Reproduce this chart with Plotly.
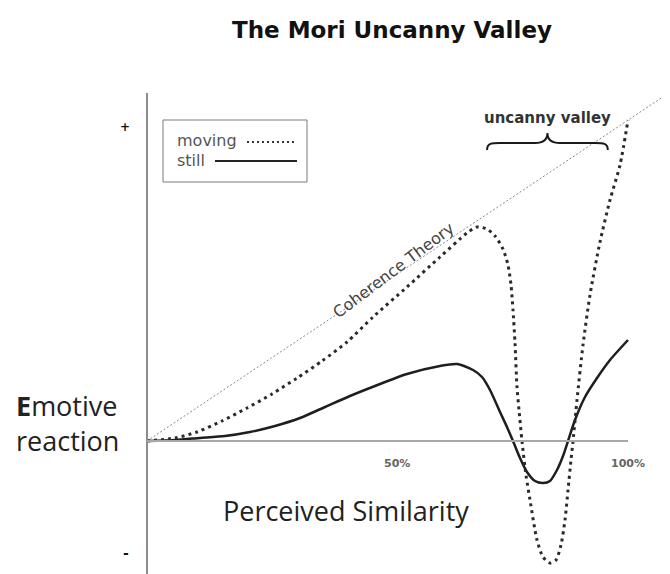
import plotly.graph_objects as go

# ---- data (perceived similarity in %, emotive reaction in arbitrary units, + = 100) ----
moving_similarity = [0, 5.82, 10.40, 15.59, 20.79, 25.99, 31.19, 36.38, 41.58, 46.99, 54.05,
                     60.91, 66.53, 68.61, 70.69, 72.35, 74.01, 75.05, 75.68, 76.09, 76.51,
                     76.92, 77.34, 77.96, 78.79, 79.63, 81.08, 82.33, 83.78, 85.03, 86.07,
                     86.90, 87.53, 88.15, 88.57, 89.40, 90.64, 92.10, 94.18, 96.26, 98.34, 100]
moving_reaction = [0, 0.96, 2.87, 6.37, 10.51, 14.97, 20.06, 25.48, 31.53, 39.49, 49.04,
                   58.60, 66.24, 68.15, 67.52, 65.29, 61.15, 56.05, 49.68, 41.72, 31.21,
                   17.20, 9.87, 0, -10.83, -18.79, -31.53, -36.94, -38.85, -37.90, -33.12,
                   -25.16, -15.61, -6.05, 0, 13.06, 30.57, 46.50, 63.38, 76.75, 87.90, 102.23]

still_similarity = [0, 5.82, 11.02, 16.22, 21.41, 26.61, 31.81, 37.01, 42.20, 47.40, 54.05,
                    60.91, 64.45, 67.78, 69.65, 71.31, 73.39, 74.84, 76.09, 77.55, 79.00,
                    80.67, 82.33, 83.78, 85.24, 86.49, 87.53, 88.98, 91.06, 93.56, 96.26,
                    100]
still_reaction = [0, 0.32, 0.96, 1.59, 2.87, 4.78, 7.32, 10.83, 14.33, 17.52, 21.34,
                  23.89, 24.52, 22.61, 20.38, 16.24, 9.24, 4.46, 0, -5.41, -9.87,
                  -12.74, -13.38, -12.74, -9.24, -4.78, 0, 6.69, 14.01, 20.06, 25.80,
                  32.17]

coherence_similarity = [0, 110]
coherence_reaction = [0, 112.4]

valley_start, valley_end = 70.7, 95.8

x_tick_positions = [52, 100]
x_tick_labels = ["50%", "100%"]

# page body has an 8px margin; the figure sits at (8, 8)
OFF = 8
W, H = 662, 566
X_RANGE = [-28.898, 108.732]
Y_RANGE = [-42.357, 137.898]


def px(x):
    return (x - OFF) / W


def py(y):
    return 1 - (y - OFF) / H


fig = go.Figure()

fig.add_trace(go.Scatter(x=coherence_similarity, y=coherence_reaction, mode="lines",
                         line=dict(color="#8a8a8a", width=1, dash="2px,2px"),
                         hoverinfo="skip", showlegend=False))
fig.add_trace(go.Scatter(x=still_similarity, y=still_reaction, mode="lines", name="still",
                         line=dict(color="#1e1e1e", width=2.5, shape="spline", smoothing=0.7),
                         showlegend=False))
fig.add_trace(go.Scatter(x=moving_similarity, y=moving_reaction, mode="lines", name="moving",
                         line=dict(color="#2a2a2a", width=3, dash="3px,4px", shape="spline",
                                   smoothing=0.7),
                         showlegend=False))

shapes = [
    # vertical axis
    dict(type="line", xref="x", yref="paper", x0=0, x1=0, y0=py(93), y1=0,
         line=dict(color="#8c8c8c", width=2)),
    # horizontal axis
    dict(type="line", xref="x", yref="y", x0=0, x1=100, y0=0, y1=0,
         line=dict(color="#a8a8a8", width=2)),
    # legend box
    dict(type="rect", xref="paper", yref="paper", x0=px(163), x1=px(307), y0=py(120), y1=py(182),
         line=dict(color="#7a7a7a", width=1)),
    dict(type="line", xref="paper", yref="paper", x0=px(247), x1=px(296), y0=py(142), y1=py(142),
         line=dict(color="#333333", width=2, dash="2px,3px")),
    dict(type="line", xref="paper", yref="paper", x0=px(215), x1=px(297), y0=py(161), y1=py(161),
         line=dict(color="#222222", width=2)),
]

# curly brace over the uncanny valley (data coords)
mid = (valley_start + valley_end) / 2
yb, yh, yt = 92.7, 94.9, 98.1
c = 2.6
brace = (f"M {valley_start},{yb} C {valley_start},{yh} {valley_start+1},{yh} {valley_start+c},{yh} "
         f"L {mid-c},{yh} C {mid-1},{yh} {mid},{yh+1} {mid},{yt} "
         f"C {mid},{yh+1} {mid+1},{yh} {mid+c},{yh} "
         f"L {valley_end-c},{yh} C {valley_end-1},{yh} {valley_end},{yh} {valley_end},{yb}")
shapes.append(dict(type="path", xref="x", yref="y", path=brace,
                   line=dict(color="#1a1a1a", width=2)))


def ann(text, x, y, size, family="DejaVu Sans", color="#222222", xanchor="center",
        xref="paper", **kw):
    return dict(text=text, xref=xref, yref="paper", x=x, y=y, xanchor=xanchor,
                yanchor="middle", showarrow=False,
                font=dict(family=family, size=size, color=color), **kw)


annotations = [
    ann("<b>The Mori Uncanny Valley</b>", px(392), py(30), 23, color="#111111"),
    ann("<b>E</b>motive<br>reaction", px(14), py(423), 27, family="Open Sans",
        xanchor="left", align="left"),
    ann("Perceived Similarity", px(346), py(510), 27, family="Open Sans"),
    ann("<b>uncanny valley</b>", mid, py(118), 15, color="#333333", xref="x"),
    ann("Coherence Theory", px(393), py(270), 16, color="#444444", textangle=-37),
    ann("<b>+</b>", px(125), py(127), 12, color="#111111"),
    ann("<b>-</b>", px(126), py(553), 14, color="#111111"),
    ann("moving", px(175), py(140), 16, color="#555555", xanchor="left"),
    ann("still", px(175), py(160), 16, color="#555555", xanchor="left"),
]
for xv, lab in zip(x_tick_positions, x_tick_labels):
    annotations.append(ann(f"<b>{lab}</b>", xv, py(463), 11, color="#666666", xref="x"))

fig.update_layout(
    width=W, height=H, autosize=False,
    margin=dict(l=0, r=0, t=0, b=0),
    paper_bgcolor="white", plot_bgcolor="white",
    xaxis=dict(visible=False, range=X_RANGE, fixedrange=True),
    yaxis=dict(visible=False, range=Y_RANGE, fixedrange=True),
    shapes=shapes, annotations=annotations, showlegend=False,
)

fig.write_html("out.html")
